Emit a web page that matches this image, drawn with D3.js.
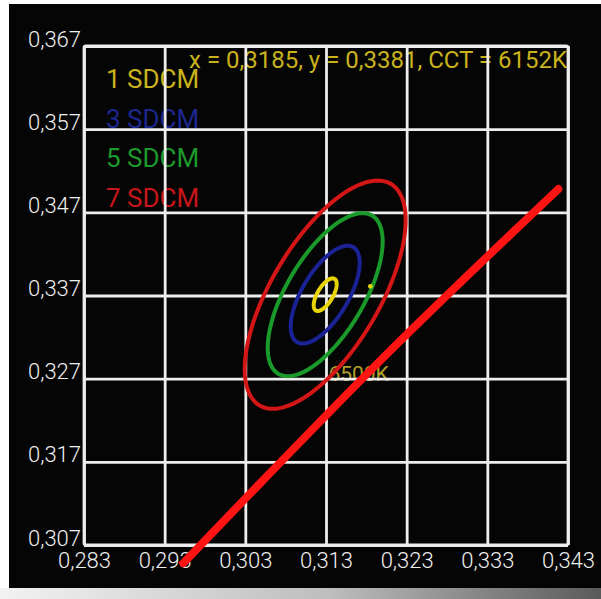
<!DOCTYPE html>
<html>
<head>
<meta charset="utf-8">
<script src="https://cdn.jsdelivr.net/npm/d3@7"></script>
<style>
  body { margin: 0; background: #fff; }
  svg { display: block; font-family: Roboto, 'Noto Sans', sans-serif; }
</style>
</head>
<body>
<div id="chart"></div>
<script>
let width = 601;
let height = 599;

// axis ticks
let xTicks = [0.283, 0.293, 0.303, 0.313, 0.323, 0.333, 0.343];
let yTicks = [0.307, 0.317, 0.327, 0.337, 0.347, 0.357, 0.367];

// MacAdam ellipses (6500K)
let sdcmSteps = [1, 3, 5, 7];
let sdcmLabels = ['1 SDCM', '3 SDCM', '5 SDCM', '7 SDCM'];
let sdcmColors = ['#e8d408', '#1a2296', '#1a9a2a', '#d41616'];
let sdcmTextColors = ['#c9b21c', '#1c2890', '#1c9a2c', '#c8161a'];
let ellipseCenter = [0.3129, 0.3371];
let ellipseA = 0.00223;
let ellipseB = 0.00095;
let ellipseTheta = 58.23;

// planckian locus segment
let planckX = [0.2953, 0.3209, 0.3418];
let planckY = [0.3048, 0.3303, 0.3498];

// measured point
let measured = { x: 0.3185, y: 0.3381, cct: 6152 };
let refLabel = { x: 0.3133, y: 0.3267, text: '6500K' };

let locale = d3.formatLocale({ decimal: ',', thousands: '.', grouping: [3], currency: ['', ''] });
let fmt3 = locale.format('.3f');
let fmt4 = locale.format('.4f');

let svg = d3.select('#chart')
  .append('svg')
  .attr('width', width)
  .attr('height', height);

// photo frame: white edge, black screen, lighter strip at bottom
let grad = svg.append('defs').append('linearGradient')
  .attr('id', 'bottomStrip');
grad.append('stop').attr('offset', '0%').attr('stop-color', '#f2f2f2');
grad.append('stop').attr('offset', '55%').attr('stop-color', '#bdbdbd');
grad.append('stop').attr('offset', '100%').attr('stop-color', '#5a5a5a');

svg.append('rect')
  .attr('x', 0).attr('y', 588)
  .attr('width', width).attr('height', 11)
  .attr('fill', 'url(#bottomStrip)');

svg.append('rect')
  .attr('x', 9).attr('y', 4)
  .attr('width', width - 9).attr('height', 584)
  .attr('fill', '#050505');

let x = d3.scaleLinear().domain([0.283, 0.343]).range([84, 568]);
let y = d3.scaleLinear().domain([0.307, 0.367]).range([545, 46]);

// texts first, the grid is drawn over them in the original
let legend = svg.append('g');
sdcmLabels.forEach(function(label, i) {
  legend.append('text')
    .attr('x', 106)
    .attr('y', 88 + i * 39.7)
    .attr('fill', sdcmTextColors[i])
    .style('font-size', '26px')
    .text(label);
});

svg.append('text')
  .attr('x', 567)
  .attr('y', 68)
  .attr('text-anchor', 'end')
  .attr('fill', '#c9b21c')
  .style('font-size', '24px')
  .text('x = ' + fmt4(measured.x) + ', y = ' + fmt4(measured.y) + ', CCT = ' + measured.cct + 'K');

svg.append('text')
  .attr('x', x(refLabel.x))
  .attr('y', y(refLabel.y))
  .attr('fill', '#b3a02a')
  .style('font-size', '21px')
  .text(refLabel.text);

// grid + axes
let xAxis = svg.append('g')
  .attr('transform', 'translate(0,' + y(0.307) + ')')
  .call(d3.axisBottom(x)
    .tickValues(xTicks)
    .tickFormat(fmt3)
    .tickSizeInner(-(y(0.307) - y(0.367)))
    .tickSizeOuter(0)
    .tickPadding(7));

let yAxis = svg.append('g')
  .attr('transform', 'translate(' + x(0.283) + ',0)')
  .call(d3.axisLeft(y)
    .tickValues(yTicks)
    .tickFormat(fmt3)
    .tickSizeInner(-(x(0.343) - x(0.283)))
    .tickSizeOuter(0)
    .tickPadding(3));

[xAxis, yAxis].forEach(function(ax) {
  ax.select('.domain').remove();
  ax.selectAll('line')
    .attr('stroke', '#ededed')
    .attr('stroke-width', 2.8);
  ax.selectAll('text')
    .attr('fill', '#f0f0f0')
    .style('font-size', '22px')
    .style('font-family', 'Roboto, sans-serif')
    .style('font-weight', 300);
});
yAxis.selectAll('text').attr('dy', '0em');

svg.append('rect')
  .attr('x', x(0.283))
  .attr('y', y(0.367))
  .attr('width', x(0.343) - x(0.283))
  .attr('height', y(0.307) - y(0.367))
  .attr('rx', 2)
  .attr('fill', 'none')
  .attr('stroke', '#ededed')
  .attr('stroke-width', 2.8);

// ellipses
let th = ellipseTheta * Math.PI / 180;
let angles = d3.range(0, 360, 3).map(function(d) { return d * Math.PI / 180; });
let ellipseLine = d3.line()
  .x(function(d) { return x(d[0]); })
  .y(function(d) { return y(d[1]); })
  .curve(d3.curveLinearClosed);

svg.selectAll('.ellipse')
  .data(sdcmSteps)
  .enter()
  .append('path')
  .attr('class', 'ellipse')
  .attr('fill', 'none')
  .attr('stroke', function(d, i) { return sdcmColors[i]; })
  .attr('stroke-width', 4)
  .attr('d', function(n) {
    let pts = angles.map(function(t) {
      let u = n * ellipseA * Math.cos(t);
      let v = n * ellipseB * Math.sin(t);
      return [ellipseCenter[0] + u * Math.cos(th) - v * Math.sin(th),
              ellipseCenter[1] + u * Math.sin(th) + v * Math.cos(th)];
    });
    return ellipseLine(pts);
  });

// planckian locus
let planck = planckX.map(function(d, i) { return [d, planckY[i]]; });
svg.append('path')
  .datum(planck)
  .attr('fill', 'none')
  .attr('stroke', '#ff1414')
  .attr('stroke-width', 8)
  .attr('stroke-linecap', 'round')
  .attr('d', d3.line()
    .x(function(d) { return x(d[0]); })
    .y(function(d) { return y(d[1]); })
    .curve(d3.curveMonotoneX));

svg.append('circle')
  .attr('cx', x(measured.x))
  .attr('cy', y(measured.y))
  .attr('r', 2.4)
  .attr('fill', '#e6d20a');
</script>
</body>
</html>
